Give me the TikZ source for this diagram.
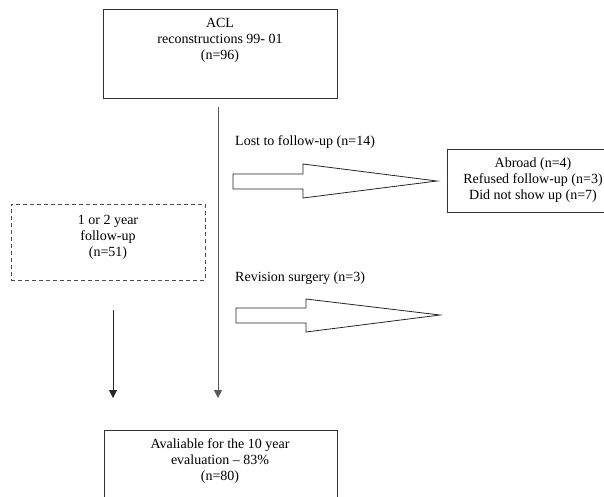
\documentclass[tikz,border=0pt]{standalone}
\usepackage{fontspec}
\setmainfont{Liberation Serif}
\usepackage{tikz}
\usetikzlibrary{positioning,arrows.meta}

\begin{document}
\begin{tikzpicture}[
    x=1pt, y=-1pt,
    box/.style={rectangle, draw=black!80, line width=0.8pt, inner sep=0pt},
    dashbox/.style={rectangle, draw=black!70, line width=0.8pt, dash pattern=on 4pt off 3pt, inner sep=0pt},
    txt/.style={align=center, inner sep=0pt, font=\fontsize{14}{16}\selectfont},
    lbl/.style={anchor=west, inner sep=0pt, font=\fontsize{14}{16}\selectfont},
    arrow/.style={-{Triangle[length=8pt,width=8pt]}, line width=0.8pt},
    bigarrow/.style={draw=black!85, line width=0.8pt, fill=white, line join=miter}
]
\useasboundingbox (0,0) rectangle (604,496);

% Main component
\node (acl) [box, minimum width=234pt, minimum height=89pt] at (220,53.5) {};
\node (acltxt) [txt] at (220,40) {ACL\\reconstructions 99- 01\\(n=96)};

% Lost to follow-up
\node (lost) [lbl] at (235,142) {Lost to follow-up (n=14)};
\node (abroad) [box, anchor=north west, minimum width=180pt, minimum height=63pt] at (447,149) {};
\node (abroadtxt) [txt] at (533,180) {Abroad (n=4)\\Refused follow-up (n=3)\\Did not show up (n=7)};

% Short follow-up
\node (short) [dashbox, minimum width=194pt, minimum height=76pt] at (108,242) {};
\node (shorttxt) [txt] at (108,237) {1 or 2 year\\follow-up\\(n=51)};

% Revision surgery
\node (revision) [lbl] at (235,278) {Revision surgery (n=3)};

% Ten year evaluation
\node (eval) [box, anchor=north west, minimum width=233pt, minimum height=80pt] at (104,430) {};
\node (evaltxt) [txt] at (220,461) {Avaliable for the 10 year\\evaluation -- 83\%\\(n=80)};

% Line ends
\coordinate (mainstart) at (218,107);
\coordinate (mainend) at (218,398);
\coordinate (leftstart) at (113,310);
\coordinate (leftend) at (113,398);

% Arrows
\draw[arrow, draw=black!65, fill=black!80] (mainstart) -- (mainend);
\draw[arrow, draw=black!85, fill=black!85] (leftstart) -- (leftend);

% Block arrows
\draw[bigarrow] (233,174) -- (303,174) -- (303,164) -- (437,181) -- (303,198) -- (303,189) -- (233,189) -- cycle;
\draw[bigarrow] (236,308) -- (306,308) -- (306,299) -- (440,315) -- (306,332) -- (306,323) -- (236,323) -- cycle;

\end{tikzpicture}
\end{document}
